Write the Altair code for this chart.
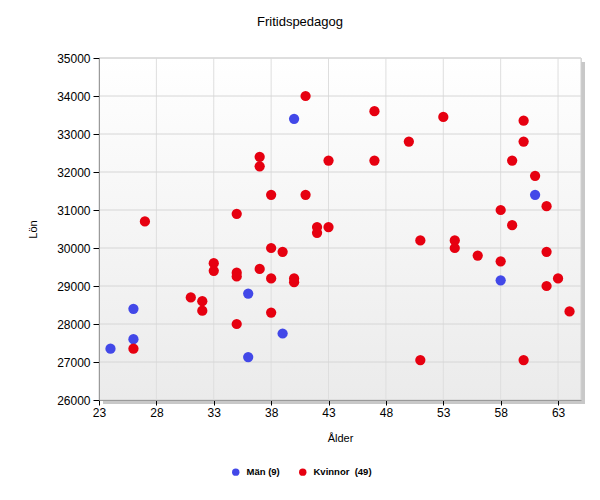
import altair as alt
import pandas as pd

# ---- data ----
man_age = [24, 26, 26, 36, 36, 39, 40, 58, 61]
man_salary = [27350, 27600, 28400, 28800, 27130, 27750, 33400, 29150, 31400]

kvinna_age = [41, 37, 37, 43, 38, 41, 35, 27, 42, 43, 42, 38, 39, 33, 33, 35, 35, 37,
              38, 40, 40, 31, 32, 32, 38, 35, 26, 47, 53, 60, 50, 60, 47, 59, 61, 62,
              58, 59, 51, 54, 54, 56, 58, 62, 63, 62, 64, 51, 60]
kvinna_salary = [34000, 32400, 32150, 32300, 31400, 31400, 30900, 30700, 30550, 30550,
                 30400, 30000, 29900, 29600, 29400, 29350, 29250, 29450, 29200, 29200,
                 29100, 28700, 28600, 28350, 28300, 28000, 27350, 33600, 33450, 33350,
                 32800, 32800, 32300, 32300, 31900, 31100, 31000, 30600, 30200, 30200,
                 30000, 29800, 29650, 29900, 29200, 29000, 28330, 27050, 27050]

series_names = ["Män (9)", "Kvinnor\u00a0 (49)"]
series_colors = ["#4248e8", "#e60010"]
x_ticks = [23, 28, 33, 38, 43, 48, 53, 58, 63]
y_ticks = [26000, 27000, 28000, 29000, 30000, 31000, 32000, 33000, 34000, 35000]
title_text = "Fritidspedagog"
x_title = "Ålder"
y_title = "Lön"

df = pd.concat([
    pd.DataFrame({"age": man_age, "salary": man_salary, "serie": series_names[0]}),
    pd.DataFrame({"age": kvinna_age, "salary": kvinna_salary, "serie": series_names[1]}),
], ignore_index=True)

W, H = 482, 342
FONT = "Liberation Sans"

xscale = alt.Scale(domain=[23, 65], nice=False, zero=False)
yscale = alt.Scale(domain=[26000, 35000], nice=False, zero=False)

xaxis = alt.Axis(values=x_ticks, grid=False, zindex=1, title=x_title,
                 domainColor="#9a9a9a", tickColor="#000000", tickSize=5,
                 labelFont=FONT, labelFontSize=12, labelColor="#000000",
                 labelPadding=2, labelFlush=False, labelOverlap=False,
                 titleFont=FONT, titleFontSize=11, titleFontWeight="normal",
                 titleColor="#000000", titleX=W / 2, titleY=38,
                 titleBaseline="middle", titleAlign="center")
yaxis = alt.Axis(values=y_ticks, grid=False, zindex=1, title=y_title,
                 format="d",
                 domainColor="#9a9a9a", tickColor="#000000", tickSize=6,
                 labelFont=FONT, labelFontSize=12, labelColor="#000000",
                 labelPadding=3, labelFlush=False, labelOverlap=False,
                 titleFont=FONT, titleFontSize=11, titleFontWeight="normal",
                 titleColor="#000000", titleX=-66, titleY=H / 2,
                 titleAngle=-90, titleBaseline="middle", titleAlign="center")

one = pd.DataFrame({"a": [0]})

shadow = alt.Chart(one).mark_rect(color="#c8c8c8").encode(
    x=alt.value(4), x2=alt.value(W + 4), y=alt.value(4), y2=alt.value(H + 4)
)

grad = alt.LinearGradient(
    gradient="linear",
    stops=[alt.GradientStop(color="#ffffff", offset=0),
           alt.GradientStop(color="#ebebeb", offset=1)],
    x1=0, x2=0, y1=0, y2=1,
)
background = alt.Chart(one).mark_rect(fill=grad, stroke="#d0d0d0", strokeWidth=1).encode(
    x=alt.value(0), x2=alt.value(W), y=alt.value(0), y2=alt.value(H)
)

points = alt.Chart(df).mark_circle(size=105, opacity=1).encode(
    x=alt.X("age:Q", scale=xscale, axis=xaxis),
    y=alt.Y("salary:Q", scale=yscale, axis=yaxis),
    color=alt.Color("serie:N",
                    scale=alt.Scale(domain=series_names, range=series_colors),
                    sort=series_names,
                    legend=alt.Legend(orient="none", legendX=132, legendY=409,
                                      direction="horizontal", title=None,
                                      symbolType="circle", symbolSize=55,
                                      symbolStrokeWidth=0, symbolOpacity=1,
                                      labelFont=FONT, labelFontSize=9.5,
                                      labelFontWeight="bold", labelColor="#000000",
                                      columnPadding=18, labelOffset=6)),
)

xgrid = alt.Chart(pd.DataFrame({"age": x_ticks[1:]})).mark_rule(
    color="#dedede", strokeWidth=1
).encode(x=alt.X("age:Q", scale=xscale, axis=xaxis))

ygrid = alt.Chart(pd.DataFrame({"salary": y_ticks[1:]})).mark_rule(
    color="#d6d6d6", strokeWidth=1
).encode(y=alt.Y("salary:Q", scale=yscale, axis=yaxis))

title = alt.Chart(one).mark_text(
    text=title_text, font=FONT, fontSize=13, color="#000000",
    align="center", baseline="middle"
).encode(x=alt.value(300 - 99), y=alt.value(22 - 58))

chart = alt.layer(shadow, background, xgrid, ygrid, points, title).properties(
    width=W, height=H,
    autosize=alt.AutoSizeParams(type="none"),
    padding={"left": 91, "top": 50, "right": 10, "bottom": 80},
).configure_view(stroke=None).configure(background="#ffffff")

chart.save("out.html", embed_options={"renderer": "svg", "actions": False})
